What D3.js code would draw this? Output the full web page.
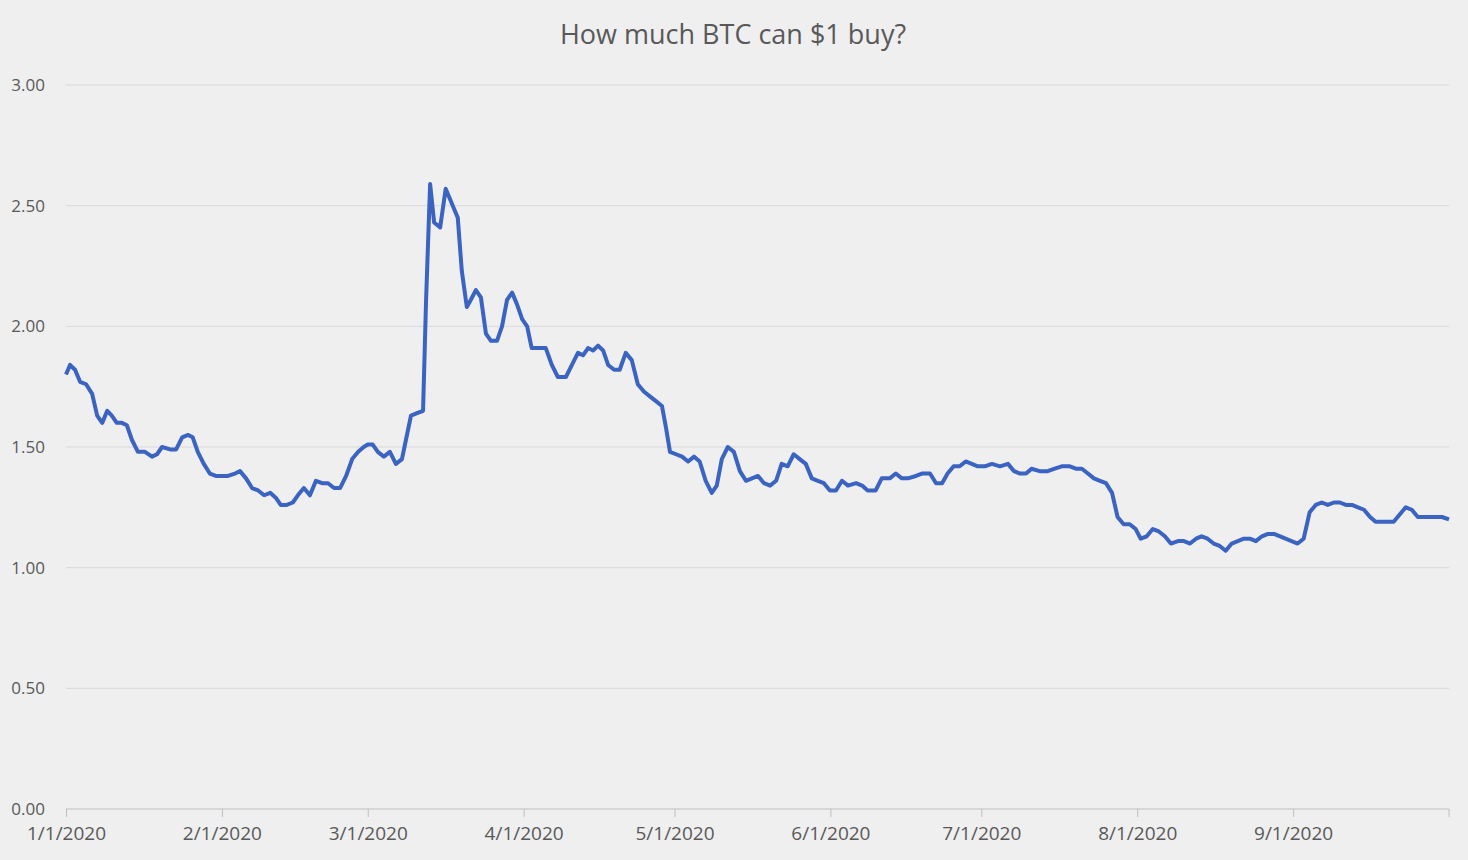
<!DOCTYPE html>
<html>
<head>
<meta charset="utf-8">
<script src="https://cdn.jsdelivr.net/npm/d3@7"></script>
<style>
  body { margin: 0; background: #efefef; }
  text { font-family: "Open Sans", "Noto Sans", sans-serif; fill: #595959; }
</style>
</head>
<body>
<svg id="chart" width="1468" height="860"></svg>
<script>
// days since 1/1/2020 and BTC per $1
let days = [0,0.8,1.8,2.8,4,5.2,6.2,7.2,8.2,9.1,10.1,11.1,12.1,13.1,14.3,15.7,17.1,18.1,19.1,20.7,21.9,23.1,24.3,25.2,26.2,27.4,28.6,29.8,31,
  32.2,33.6,34.6,35.8,37,38.2,39.4,40.6,41.7,42.7,43.9,45.1,46.1,47.3,48.5,49.7,50.9,52.1,53.3,54.5,55.7,56.9,58.1,59.2,60,
  61,62,63.2,64.4,65.6,66.8,67.6,68.6,69.8,71,71.6,72.4,73.2,74.4,75.5,76.7,77.9,78.7,79.7,80.5,81.5,82.5,83.5,84.5,85.7,86.7,87.7,88.7,89.7,90.7,91.7,
  92.6,94.2,95.4,96.6,97.8,99.4,100.6,101.8,102.8,103.8,104.8,105.8,106.8,107.8,109,110.1,111.3,112.5,113.7,114.9,116.1,117.3,118.5,119.3,120.1,121.3,
  122.5,123.7,124.9,126,127.2,128.4,129.4,130.4,131.6,132.8,134,135.2,136.4,137.6,138.8,140,141.2,142.3,143.5,144.7,145.9,147.1,148.3,149.5,150.7,151.9,
  153.1,154.3,155.5,157.1,158.3,159.4,161,162.2,163.8,165,166.2,167.4,169,170.2,171.8,173,174.2,175.3,176.5,177.7,178.9,180.1,181.3,182.7,
  184.1,185.7,187.3,188.5,189.7,190.9,192,193.6,195.2,196.6,198,199.6,200.8,202,203.2,204.4,205.6,206.8,208,209.1,210.3,211.5,212.7,213.7,
  214.9,216.1,217.3,218.5,219.7,221.1,222.3,223.5,224.7,225.8,227,228.2,229.4,230.6,231.8,233,234.2,235.4,236.6,237.8,239,240.2,241.4,242.5,243.7,244.9,
  246.1,247.3,248.5,249.7,250.9,252.1,253.3,254.5,255.7,256.9,258.1,259.3,260.4,261.6,262.8,264,265.2,266.4,267.6,268.8,270,271.2,272.4,273.6,275];
let values = [1.80,1.84,1.82,1.77,1.76,1.72,1.63,1.60,1.65,1.63,1.60,1.60,1.59,1.53,1.48,1.48,1.46,1.47,1.50,1.49,1.49,1.54,1.55,1.54,1.48,1.43,1.39,1.38,1.38,
  1.38,1.39,1.40,1.37,1.33,1.32,1.30,1.31,1.29,1.26,1.26,1.27,1.30,1.33,1.30,1.36,1.35,1.35,1.33,1.33,1.38,1.45,1.48,1.50,1.51,
  1.51,1.48,1.46,1.48,1.43,1.45,1.53,1.63,1.64,1.65,2.11,2.59,2.43,2.41,2.57,2.51,2.45,2.23,2.08,2.11,2.15,2.12,1.97,1.94,1.94,2.00,2.11,2.14,2.09,2.03,2.00,
  1.91,1.91,1.91,1.84,1.79,1.79,1.84,1.89,1.88,1.91,1.90,1.92,1.90,1.84,1.82,1.82,1.89,1.86,1.76,1.73,1.71,1.69,1.67,1.58,1.48,1.47,
  1.46,1.44,1.46,1.44,1.36,1.31,1.34,1.45,1.50,1.48,1.40,1.36,1.37,1.38,1.35,1.34,1.36,1.43,1.42,1.47,1.45,1.43,1.37,1.36,1.35,1.32,
  1.32,1.36,1.34,1.35,1.34,1.32,1.32,1.37,1.37,1.39,1.37,1.37,1.38,1.39,1.39,1.35,1.35,1.39,1.42,1.42,1.44,1.43,1.42,1.42,
  1.43,1.42,1.43,1.40,1.39,1.39,1.41,1.40,1.40,1.41,1.42,1.42,1.41,1.41,1.39,1.37,1.36,1.35,1.31,1.21,1.18,1.18,1.16,1.12,
  1.13,1.16,1.15,1.13,1.10,1.11,1.11,1.10,1.12,1.13,1.12,1.10,1.09,1.07,1.10,1.11,1.12,1.12,1.11,1.13,1.14,1.14,1.13,1.12,1.11,1.10,
  1.12,1.23,1.26,1.27,1.26,1.27,1.27,1.26,1.26,1.25,1.24,1.21,1.19,1.19,1.19,1.19,1.22,1.25,1.24,1.21,1.21,1.21,1.21,1.21,1.20];
let yTicks = [0, 0.5, 1, 1.5, 2, 2.5, 3];
let monthTicks = ["2020-01-01","2020-02-01","2020-03-01","2020-04-01","2020-05-01","2020-06-01","2020-07-01","2020-08-01","2020-09-01"];

let svg = d3.select("#chart");
let plotLeft = 66, plotRight = 1449, plotTop = 85, plotBottom = 809;
let start = new Date(2020, 0, 1);
let toDate = d => new Date(start.getTime() + d * 86400000);
let parse = d3.timeParse("%Y-%m-%d");

let x = d3.scaleTime().domain([start, toDate(275)]).range([plotLeft, plotRight]);
let y = d3.scaleLinear().domain([0, 3]).range([plotBottom, plotTop]);

//title
svg.append("text").attr("x", 733).attr("y", 44).attr("text-anchor", "middle")
  .style("font-size", "27px").text("How much BTC can $1 buy?");

//grid + y labels
svg.selectAll(".grid").data(yTicks.slice(1)).enter().append("line")
  .attr("x1", plotLeft).attr("x2", plotRight)
  .attr("y1", d => y(d)).attr("y2", d => y(d))
  .attr("stroke", "#d9d9d9").attr("stroke-width", 1);
svg.selectAll(".ylab").data(yTicks).enter().append("text")
  .attr("x", 45).attr("y", d => y(d) + 6).attr("text-anchor", "end")
  .style("font-size", "17px").text(d3.format(".2f"));

//x axis
let xAxis = svg.append("g").attr("transform", "translate(0," + plotBottom + ")")
  .call(d3.axisBottom(x).tickValues(monthTicks.map(parse)).tickSize(8).tickFormat(d3.timeFormat("%-m/%-d/%Y")));
xAxis.select(".domain").attr("stroke", "#bfbfbf").attr("d", "M" + plotLeft + ",0H" + plotRight);
xAxis.selectAll(".tick line").attr("stroke", "#bfbfbf");
xAxis.selectAll(".tick text").attr("fill", "#595959").attr("dy", "1.05em")
  .style("font-size", "19px").style("font-family", "'Open Sans', sans-serif");
xAxis.append("line").attr("x1", plotRight).attr("x2", plotRight).attr("y1", 0).attr("y2", 8).attr("stroke", "#bfbfbf");

//line
let line = d3.line().x((d, i) => x(toDate(days[i]))).y(d => y(d));
svg.append("path").datum(values).attr("d", line)
  .attr("fill", "none").attr("stroke", "#3a63c2").attr("stroke-width", 4)
  .attr("stroke-linejoin", "round");
</script>
</body>
</html>
